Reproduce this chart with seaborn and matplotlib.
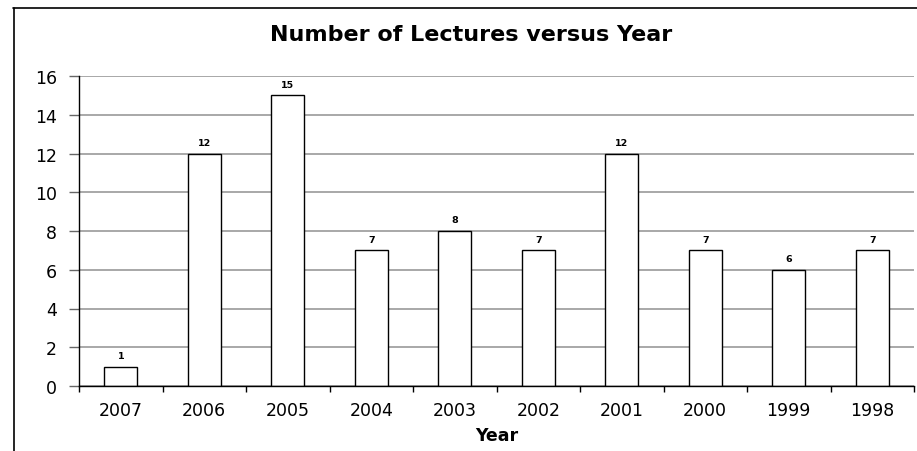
import matplotlib
matplotlib.use("Agg")
import matplotlib.pyplot as plt
from matplotlib.lines import Line2D
import numpy as np
import pandas as pd
import seaborn as sns

years = ["2007", "2006", "2005", "2004", "2003", "2002", "2001", "2000", "1999", "1998"]
lectures = [1, 12, 15, 7, 8, 7, 12, 7, 6, 7]

sns.set_style("white")
# the reference text is wide, DejaVu Sans is the widest sans available
plt.rcParams["font.family"] = ["DejaVu Sans"]
plt.rcParams["text.color"] = "black"
plt.rcParams["xtick.color"] = "black"
plt.rcParams["ytick.color"] = "black"
plt.rcParams["axes.labelcolor"] = "black"

data = pd.DataFrame({"year": years, "lectures": lectures})

fig = plt.figure(figsize=(9.17, 4.52), dpi=100)
ax = fig.add_axes([79 / 917, 1 - 387 / 452, 835 / 917, 310 / 452])

sns.barplot(ax=ax, data=data, x="year", y="lectures", order=years,
            color="white", edgecolor="black", linewidth=1.0, width=0.4,
            saturation=1, zorder=3)

ax.set_xlim(-0.5, len(years) - 0.5)
ax.set_ylim(0, 16)
ax.set_yticks(np.arange(0, 17, 2))
ax.yaxis.grid(True, color="#999999", linewidth=1.2, zorder=0)
ax.xaxis.grid(False)

# category labels at centres, ticks on the boundaries
ax.set_xticks(np.arange(-0.5, len(years), 1.0))
ax.set_xticklabels([])
ax.set_xticks(np.arange(len(years)), minor=True)
ax.set_xticklabels(years, minor=True, fontsize=12.5)
ax.tick_params(axis="x", which="major", length=4, width=1, color="black", direction="out", bottom=True)
ax.tick_params(axis="x", which="minor", length=0, pad=11)
ax.tick_params(axis="y", length=7, width=1, color="#666666", direction="out", left=True,
               labelsize=12.5, pad=9)

for side in ["top", "right"]:
    ax.spines[side].set_visible(False)
for side in ["left", "bottom"]:
    ax.spines[side].set_color("black")
    ax.spines[side].set_linewidth(1.0)
    ax.spines[side].set_zorder(4)

for i, v in enumerate(lectures):
    ax.text(i, v + 0.35, str(v), ha="center", va="bottom", fontsize=6.8, fontweight="bold")

ax.set_ylabel("")
ax.set_xlabel("Year", fontsize=12.5, fontweight="bold", labelpad=5)
fig.text(471 / 917, 1 - 35 / 452, "Number of Lectures versus Year", ha="center", va="center",
         fontsize=16, fontweight="bold")

# chart frame (only top and left edges are inside the picture)
fig.add_artist(Line2D([13.5 / 917, 13.5 / 917], [0, 1 - 8.5 / 452], color="black", linewidth=1.2))
fig.add_artist(Line2D([13 / 917, 1], [1 - 8.5 / 452, 1 - 8.5 / 452], color="black", linewidth=1.2))

fig.savefig("out.png", dpi=100)
